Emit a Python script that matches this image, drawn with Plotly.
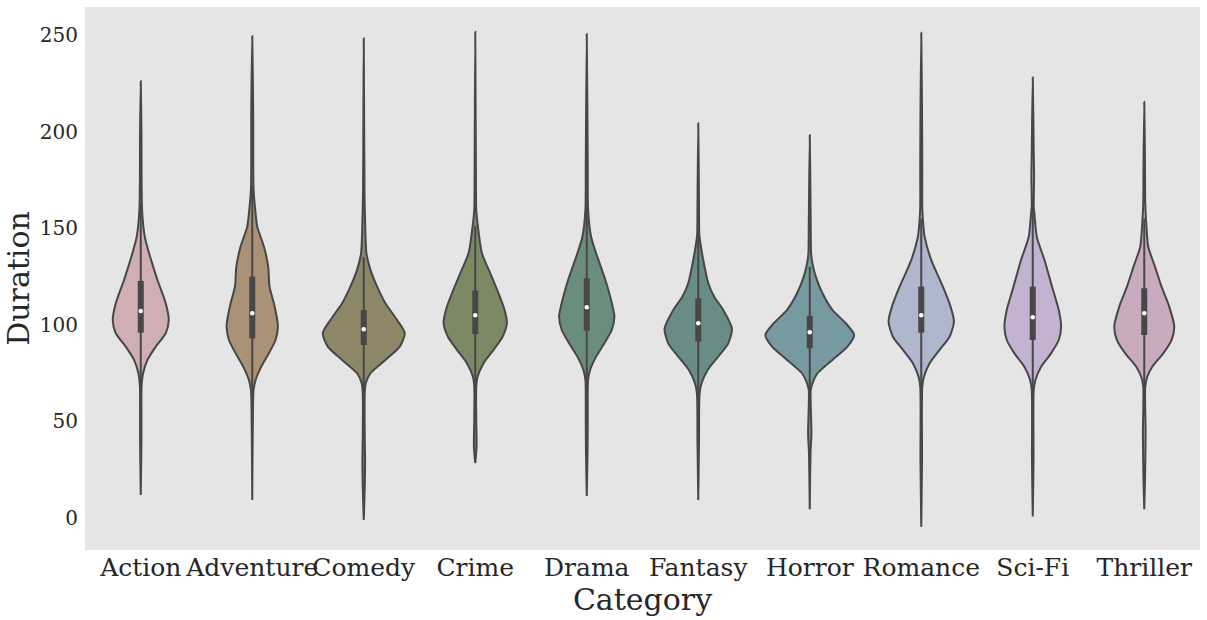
import plotly.graph_objects as go

categories = ["Action", "Adventure", "Comedy", "Crime", "Drama", "Fantasy", "Horror", "Romance", "Sci-Fi", "Thriller"]
colors = ["#D0AFB4", "#A99276", "#8D8768", "#7B8A65", "#6B8D7D", "#6A8C88", "#7799A0", "#AEB7CC", "#C3B3D0", "#C9ABC0"]

# violin outlines: duration levels (top -> bottom) and half-widths (category units)
lv_action = [226.2, 200, 159.4, 145.6, 137.0, 123.2, 111.1, 102.5, 95.6, 88.7, 81.8, 74.9, 71.4, 68.0, 40, 11.9]
hw_action = [0, 0.006, 0.012, 0.036, 0.075, 0.15, 0.224, 0.251, 0.224, 0.135, 0.06, 0.021, 0.012, 0.007, 0.006, 0]
lv_adventure = [249.5, 206, 181.8, 169.8, 161.1, 150.8, 140.4, 130.1, 119.7, 111.1, 102.5, 99.0, 92.1, 85.2, 78.3, 71.4, 66.3, 59.4, 9.3]
hw_adventure = [0, 0.009, 0.009, 0.012, 0.024, 0.045, 0.105, 0.143, 0.155, 0.194, 0.224, 0.23, 0.209, 0.149, 0.081, 0.03, 0.012, 0.007, 0]
lv_comedy = [248.3, 166.3, 147.4, 137.0, 128.4, 119.7, 111.1, 102.5, 95.6, 88.7, 81.8, 74.9, 69.7, 64.5, 42.1, 28.3, 16.2, -1.0]
hw_comedy = [0, 0.007, 0.015, 0.024, 0.06, 0.12, 0.194, 0.299, 0.368, 0.323, 0.194, 0.06, 0.018, 0.009, 0.009, 0.012, 0.009, 0]
lv_crime = [251.7, 164.6, 159.4, 150.8, 137.0, 126.6, 116.3, 107.7, 100.8, 93.8, 87.0, 80.1, 73.1, 68.0, 50.7, 36.9, 28.3]
hw_crime = [0, 0.007, 0.009, 0.024, 0.06, 0.135, 0.209, 0.263, 0.284, 0.245, 0.164, 0.075, 0.021, 0.009, 0.009, 0.012, 0]
lv_drama = [250.5, 181.8, 159.4, 145.6, 137.0, 123.2, 112.8, 104.2, 97.3, 90.4, 83.5, 76.6, 71.4, 50.7, 33.5, 11.4]
hw_drama = [0, 0.009, 0.012, 0.039, 0.084, 0.167, 0.218, 0.248, 0.224, 0.158, 0.084, 0.03, 0.012, 0.009, 0.007, 0]
lv_fantasy = [204.3, 161.1, 147.4, 143.9, 133.5, 121.5, 114.5, 107.7, 98.0, 90.4, 83.5, 76.6, 69.7, 64.5, 40, 9.3]
hw_fantasy = [0, 0.007, 0.009, 0.015, 0.045, 0.09, 0.143, 0.224, 0.302, 0.269, 0.179, 0.084, 0.03, 0.012, 0.007, 0]
lv_horror = [198.2, 150.8, 137.0, 131.8, 124.9, 116.3, 107.7, 100.8, 94.7, 88.7, 81.8, 74.9, 69.7, 66.3, 57.6, 43.8, 33.5, 4.5]
hw_horror = [0, 0.009, 0.012, 0.024, 0.054, 0.114, 0.203, 0.323, 0.398, 0.338, 0.203, 0.069, 0.024, 0.009, 0.009, 0.015, 0.007, 0]
lv_romance = [251.2, 209.5, 180.1, 161.1, 154.2, 145.6, 133.5, 119.7, 109.4, 101.6, 93.8, 87.0, 80.1, 73.1, 68.0, 30, -4.5]
hw_romance = [0, 0.007, 0.009, 0.009, 0.015, 0.03, 0.09, 0.194, 0.263, 0.293, 0.254, 0.164, 0.075, 0.024, 0.009, 0.007, 0]
lv_scifi = [228.1, 188.8, 176.7, 161.1, 157.7, 145.6, 133.5, 119.7, 107.7, 99.0, 92.1, 85.2, 78.3, 71.4, 66.3, 30, 0.7]
hw_scifi = [0, 0.009, 0.012, 0.009, 0.015, 0.036, 0.105, 0.173, 0.233, 0.254, 0.233, 0.164, 0.075, 0.024, 0.009, 0.007, 0]
lv_thriller = [215.5, 180, 162.9, 152.5, 140.4, 130.1, 119.7, 109.4, 99.0, 92.1, 85.2, 78.3, 73.1, 68.0, 43.8, 20, 4.5]
hw_thriller = [0, 0.007, 0.009, 0.018, 0.036, 0.096, 0.155, 0.224, 0.269, 0.245, 0.17, 0.072, 0.027, 0.009, 0.012, 0.007, 0]

levels = [lv_action, lv_adventure, lv_comedy, lv_crime, lv_drama, lv_fantasy, lv_horror, lv_romance, lv_scifi, lv_thriller]
halfwidths = [hw_action, hw_adventure, hw_comedy, hw_crime, hw_drama, hw_fantasy, hw_horror, hw_romance, hw_scifi, hw_thriller]

# inner box statistics
q1 = [95.9, 93.0, 89.5, 95.2, 96.9, 91.3, 87.8, 95.9, 92.1, 94.7]
q3 = [122.7, 124.9, 107.7, 117.7, 124.1, 113.7, 104.6, 119.7, 119.7, 118.9]
median = [107.1, 105.9, 97.7, 104.9, 109.1, 100.8, 96.1, 104.9, 103.9, 105.9]
whisker_hi = [163, 172, 135, 151, 164, 147, 130, 155, 161, 155]
whisker_lo = [56, 45, 62, 62, 56, 58, 63, 60, 51, 58]

y_ticks = [0, 50, 100, 150, 200, 250]

EDGE = "#474747"
FONT = "DejaVu Serif"
TXT = "#262626"

fig = go.Figure()
for i, cat in enumerate(categories):
    lv = levels[i]
    hw = halfwidths[i]
    xs = [i + w for w in hw] + [i - w for w in reversed(hw)]
    ys = list(lv) + list(reversed(lv))
    fig.add_trace(go.Scatter(
        x=xs, y=ys, mode="lines", fill="toself", fillcolor=colors[i],
        line=dict(color=EDGE, width=2, shape="spline", smoothing=0.7),
        hoverinfo="skip", showlegend=False))
    fig.add_trace(go.Scatter(
        x=[i, i], y=[whisker_lo[i], whisker_hi[i]], mode="lines",
        line=dict(color=EDGE, width=2), hoverinfo="skip", showlegend=False))
    fig.add_trace(go.Scatter(
        x=[i, i], y=[q1[i], q3[i]], mode="lines",
        line=dict(color=EDGE, width=6), hoverinfo="skip", showlegend=False))
    fig.add_trace(go.Scatter(
        x=[i], y=[median[i]], mode="markers",
        marker=dict(color="white", size=4.5, line=dict(width=0)),
        hoverinfo="skip", showlegend=False))

fig.update_layout(
    width=1207, height=620,
    margin=dict(l=85, r=7, t=7, b=70),
    paper_bgcolor="white", plot_bgcolor="#E5E5E5",
    font=dict(family=FONT, color=TXT),
    showlegend=False,
)
fig.update_xaxes(
    range=[-0.5, 9.5], tickmode="array", tickvals=list(range(len(categories))),
    ticktext=categories, tickfont=dict(size=25, family=FONT, color=TXT),
    tickangle=0, automargin=False,
    showgrid=False, zeroline=False, showline=False, ticks="",
    title=dict(text="Category", font=dict(size=30, family=FONT, color=TXT), standoff=1),
)
fig.update_yaxes(
    range=[-16.6, 264.5], tickmode="array", tickvals=y_ticks,
    tickfont=dict(size=20, family=FONT, color=TXT), automargin=False,
    ticklabelstandoff=6,
    showgrid=False, zeroline=False, showline=False, ticks="",
    title=dict(text="Duration", font=dict(size=30, family=FONT, color=TXT), standoff=1),
)

fig.write_html("out.html")
